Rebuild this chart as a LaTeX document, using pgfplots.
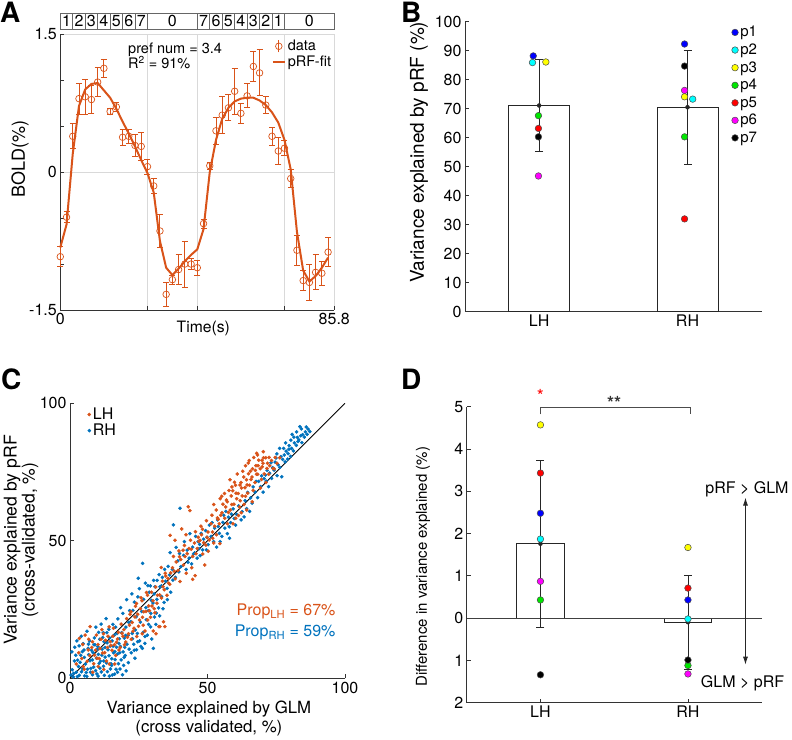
\documentclass[border=0pt]{standalone}
\usepackage{pgfplots}
\pgfplotsset{compat=1.18}
\usetikzlibrary{arrows.meta}
\usepackage{fontspec}
\setmainfont{TeX Gyre Heros}
\definecolor{mor}{RGB}{217,83,25}
\definecolor{mbl}{RGB}{0,114,189}
\definecolor{pa}{RGB}{0,0,255}
\definecolor{pb}{RGB}{0,255,255}
\definecolor{pc}{RGB}{255,255,0}
\definecolor{pd}{RGB}{0,230,0}
\definecolor{pe}{RGB}{255,0,0}
\definecolor{pf}{RGB}{255,0,255}
\definecolor{pg}{RGB}{0,0,0}
\newcommand{\fs}[1]{\fontsize{#1}{#1}\selectfont}
\pgfplotsset{
  base/.style={scale only axis, anchor=south west, axis lines=left,
    axis line style={-, black!80, line width=0.8pt},
    tick style={black!80, line width=0.8pt}, major tick length=4pt, minor tick length=4pt,
    tick align=inside,
    /pgf/number format/assume math mode=true, tick label style={font=\fs{16}},
    label style={font=\fs{16.5}}, clip=false},
  pt/.style={only marks, mark=*, mark size=3.3pt, mark options={fill=#1, draw=black!70, line width=0.5pt}},
}
\begin{document}
\begin{tikzpicture}[x=1pt,y=1pt]
\useasboundingbox (0,0) rectangle (792,739);
%================ A
\begin{axis}[base, at={(60.3pt,429pt)}, width=274pt, height=275.7pt,
  xmin=0, xmax=85.8, ymin=-1.5, ymax=1.5,
  xtick={0,27.3,42.9,70.2,85.8}, xticklabels={0,,,,85.8},
  ytick={-1.5,0,1.5}, yticklabels={-1.5,0,1.5}, minor ytick={-1,-0.5,0.5,1},
  grid=major, major grid style={black!15, line width=0.6pt},
  xlabel={Time(s)}, ylabel={BOLD(\%)},
  xlabel style={at={(axis description cs:0.522,-0.067)}, anchor=center, font=\fs{15.7}},
  ylabel style={at={(axis description cs:-0.147,0.548)}, anchor=center, font=\fs{18}},
  legend style={at={(axis description cs:1,0.99)}, anchor=north east, draw=none, fill=none,
    font=\fs{14.5}, row sep=0pt, inner sep=1pt}, legend cell align=left]
\addplot[mor, only marks, mark=o, mark size=3.3pt, mark options={line width=0.7pt},
  legend image code/.code={\draw[mor, line width=0.8pt] (4pt,-6pt) -- (4pt,6pt); \draw[mor, line width=0.7pt] (4pt,0pt) circle (3.3pt);},
  error bars/.cd, y dir=both, y explicit, error bar style={mor, line width=0.9pt},
  error mark options={rotate=90, mor, line width=0.9pt, mark size=3pt}]
  table[x=t, y=y, y error=e] {
t y e
0 -0.92 0.11
1.95 -0.49 0.06
3.9 0.39 0.135
5.85 0.80 0.17
7.8 0.82 0.19
9.75 0.79 0.15
11.7 0.98 0.16
13.65 1.13 0.10
15.6 0.66 0.035
17.55 0.71 0.05
19.5 0.38 0.09
21.45 0.39 0.08
23.4 0.29 0.12
25.35 0.28 0.15
27.3 0.06 0.08
29.25 -0.15 0.08
31.2 -0.64 0.18
33.15 -1.33 0.13
35.1 -1.17 0.05
37.05 -1.06 0.16
39.0 -1.00 0.25
40.95 -1.00 0.06
42.9 -1.04 0.08
44.85 -0.56 0.05
46.8 0.07 0.04
48.75 0.45 0.15
50.7 0.62 0.20
52.65 0.70 0.14
54.6 0.88 0.25
56.55 0.64 0.11
58.5 0.83 0.13
60.45 1.15 0.16
62.4 1.08 0.25
64.35 0.73 0.09
66.3 0.39 0.10
68.25 0.23 0.15
70.2 0.26 0.08
72.15 -0.07 0.10
74.1 -0.85 0.16
76.05 -1.18 0.11
78.0 -1.20 0.20
79.95 -1.09 0.19
81.9 -1.10 0.13
83.85 -0.87 0.16
};
\addlegendentry{data}
\addplot[mor, line width=2pt, mark=none,
  legend image code/.code={\draw[mor, line width=2pt] (-2pt,0pt) -- (10pt,0pt);}]
  coordinates {(0,-0.82) (1.95,-0.57) (3.9,0.2) (5.85,0.72) (7.8,0.9) (9.75,0.96) (11.7,0.97)
  (13.65,0.89) (15.6,0.81) (17.55,0.69) (19.5,0.55) (21.45,0.42) (23.4,0.28) (25.35,0.13) (27.3,-0.01)
  (29.25,-0.22) (31.2,-0.75) (33.15,-1.04) (35.1,-1.12) (37.05,-1.05) (39,-0.97) (40.95,-0.90)
  (42.9,-0.84) (44.85,-0.62) (46.8,0.0) (48.75,0.35) (50.7,0.58) (52.65,0.70) (54.6,0.77)
  (56.55,0.80) (58.5,0.81) (60.45,0.81) (62.4,0.78) (64.35,0.73) (66.3,0.65) (68.25,0.54)
  (70.2,0.35) (72.15,0.03) (74.1,-0.65) (76.05,-1.07) (78,-1.19) (79.95,-1.13) (81.9,-1.04) (83.85,-0.93)};
\addlegendentry{pRF-fit}
\node[anchor=base west, font=\fs{14.5}, inner sep=0pt] at (axis cs:21.2,1.293) {pref num = 3.4};
\node[anchor=base west, font=\fs{14.5}, inner sep=0pt] at (axis cs:21.2,1.123) {R\textsuperscript{2} = 91\%};
\end{axis}
% stimulus boxes
\foreach \n [count=\i from 0] in {1,2,3,4,5,6,7} {
  \draw[black!60, line width=0.6pt] ({60.3+\i*12.454},709.7) rectangle +(12.454,16);
  \node[font=\fs{16}, inner sep=0pt] at ({60.3+(\i+0.5)*12.454},717.7) {\n};
}
\draw[black!60, line width=0.6pt] (147.48,709.7) rectangle (197.3,725.7);
\node[font=\fs{16}] at (172.4,717.7) {0};
\foreach \n [count=\i from 0] in {7,6,5,4,3,2,1} {
  \draw[black!60, line width=0.6pt] ({197.3+\i*12.454},709.7) rectangle +(12.454,16);
  \node[font=\fs{16}, inner sep=0pt] at ({197.3+(\i+0.5)*12.454},717.7) {\n};
}
\draw[black!60, line width=0.6pt] (284.5,709.7) rectangle (334.3,725.7);
\node[font=\fs{16}] at (309.4,717.7) {0};
%================ B
\begin{axis}[base, at={(465pt,427.3pt)}, width=296.7pt, height=290pt,
  xmin=0.5, xmax=2.5, ymin=0, ymax=100, xtick={1,2}, xticklabels={LH,RH},
  ytick={0,10,...,100},
  ylabel={Variance explained by pRF (\%)},
  ylabel style={at={(axis description cs:-0.155,0.55)}, anchor=center, font=\fs{19}},
  legend style={at={(axis description cs:0.995,0.995)}, anchor=north east, draw=none, fill=none,
    font=\fs{15}, row sep=1.5pt, inner sep=1pt}, legend cell align=left]
\addplot[ybar, bar shift=0pt, bar width=0.41, fill=white, draw=black!85, line width=0.8pt, forget plot]
  coordinates {(1,71.0) (2,70.3)};
\addplot[black!85, only marks, mark=none, forget plot,
  error bars/.cd, y dir=both, y explicit, error bar style={line width=0.8pt},
  error mark options={rotate=90, line width=0.8pt, mark size=4pt}]
  coordinates {(1,71.1) +- (0,15.9) (2,70.5) +- (0,19.7)};
\addplot[pt=pa] coordinates {(0.96,88.2) (1.98,92.3)}; \addlegendentry{p1}
\addplot[pt=pb] coordinates {(0.955,85.9) (2.035,73.3)}; \addlegendentry{p2}
\addplot[pt=pc] coordinates {(1.045,86.1) (1.98,74.1)}; \addlegendentry{p3}
\addplot[pt=pd] coordinates {(0.995,67.6) (1.98,60.3)}; \addlegendentry{p4}
\addplot[pt=pe] coordinates {(0.995,63.2) (1.98,32.0)}; \addlegendentry{p5}
\addplot[pt=pf] coordinates {(0.995,46.8) (1.98,76.3)}; \addlegendentry{p6}
\addplot[pt=pg] coordinates {(0.995,60.3) (1.98,84.7)}; \addlegendentry{p7}
\end{axis}
%================ C
\begin{axis}[base, at={(70pt,60.7pt)}, width=275pt, height=275pt,
  xmin=0, xmax=100, ymin=0, ymax=100, xtick={0,50,100}, ytick={0,50,100},
  xlabel={Variance explained by GLM\\(cross validated, \%)},
  xlabel style={align=center, at={(axis description cs:0.505,-0.146)}, anchor=center, font=\fontsize{16.8}{18.5}\selectfont},
  ylabel={Variance explained by pRF\\(cross-validated, \%)},
  ylabel style={align=center, at={(axis description cs:-0.178,0.503)}, anchor=center, font=\fontsize{17.6}{18}\selectfont},
  legend style={at={(axis description cs:0.06,0.995)}, anchor=north west, draw=none, fill=none,
    font=\fs{16}, row sep=-1pt, inner sep=1pt}, legend cell align=left]
\addlegendimage{only marks, mark=*, mark size=1.6pt, color=mor}
\addlegendentry{LH}
\addlegendimage{only marks, mark=*, mark size=1.6pt, color=mbl}
\addlegendentry{RH}
\addplot[only marks, mark=*, mark size=1.6pt, color=mbl, forget plot] coordinates {
(0.4,1.2) (1.2,0.5) (0.8,3.1) (1.6,6.3) (2.3,2.2) (2.1,8.4) (2.5,13.6) (3.4,1.1) (3.1,4.3) (3.3,11.8) (4.2,2.4) (4.5,9.7) (4.1,15.3) (5.3,0.9) (5.6,5.2) (5.2,7.6)
(6.1,0.7) (6.4,3.3) (6.7,12.4) (6.2,17.1) (7.5,2.2) (7.3,6.4) (7.8,10.2) (8.2,1.3) (8.6,4.1) (8.4,9.3) (8.9,14.7) (9.3,2.8) (9.6,7.3) (9.1,12.2) (9.4,18.6) (10.2,0.8)
(10.6,5.4) (10.3,8.7) (10.8,14.2) (11.4,2.3) (11.1,6.2) (11.7,10.6) (11.3,19.7) (12.5,1.1) (12.2,4.4) (12.8,7.7) (12.4,13.3) (13.6,2.4) (13.2,5.6) (13.8,10.4)
(13.4,16.6) (13.1,21.7) (14.3,0.8) (14.7,3.4) (14.2,8.2) (14.6,11.7) (15.4,1.2) (15.1,4.7) (15.8,9.3) (15.3,13.6) (15.6,19.6) (16.2,1.5) (16.7,3.3) (16.4,6.8)
(16.9,11.3) (16.1,15.7) (17.3,2.2) (17.6,5.3) (17.2,8.8) (17.8,12.7) (17.4,21.6) (18.2,3.4) (18.6,6.7) (18.3,11.6) (18.8,16.6) (18.4,25.7) (19.1,1.3) (19.5,4.7)
(19.3,9.6) (19.8,14.6) (19.2,23.6) (20.4,2.7) (20.1,8.3) (20.7,12.4) (20.3,18.6) (20.6,28.6) (21.2,5.7) (21.5,10.6) (21.1,15.6) (21.7,24.6) (0.7,9.6) (2.8,6.6)
(4.8,12.6) (7.1,13.6) (9.8,1.6) (10.9,3.7) (12.1,16.6) (14.4,14.7) (16.6,18.6) (20.2,15.6) (3.7,5.8) (1.7,11.3) (7.6,3.6) (10.4,16.7) (12.7,11.2) (14.9,5.3)
(17.1,16.3) (19.7,7.6) (21.4,20.3)
(1.3,1.8) (2.7,0.6) (4.6,3.4) (5.9,2.1) (6.8,8.6) (8.1,6.7) (9.9,10.6) (11.6,8.4) (13.5,12.9) (15.2,7.1) (16.3,9.7) (18.1,9.3) (19.9,11.3) (17.9,14.4)
(15.7,11.7) (14.1,17.8) (12.3,6.3) (11.9,14.8) (10.1,11.6) (8.7,12.2) (6.6,10.9) (5.1,10.3) (3.9,8.4) (22.6,16.3) (23.4,10.2) (24.6,13.3) (25.8,11.6)
(27.3,15.2) (28.6,19.6) (29.7,14.3) (31.2,19.6) (32.6,22.7) (33.8,25.3) (35.4,28.6) (36.6,31.3) (30.9,33.3)
(22.3,9.3) (22.7,14.4) (22.1,20.6) (22.5,30.7) (23.6,7.3) (23.2,12.4) (23.8,17.6) (23.4,27.7) (24.2,10.4) (24.5,16.3) (24.1,22.4) (24.8,36.4) (25.3,13.6)
(25.6,20.4) (25.2,32.6) (26.3,10.9) (26.6,16.7) (26.1,24.3) (26.4,41.8) (27.2,12.7) (27.7,21.3) (27.4,34.6) (28.1,15.7) (28.5,24.6) (28.8,31.3) (29.3,18.7)
(29.6,28.3) (29.2,33.6) (30.3,10.9) (30.7,22.3) (30.2,27.4) (30.6,30.7) (31.4,23.7) (31.7,35.6) (32.2,25.6) (32.7,33.3) (33.3,29.7) (33.6,36.7) (34.2,27.6)
(34.7,35.3) (35.3,32.7) (36.2,37.6) (36.4,45.7) (37.2,39.6) (37.6,55.8) (38.3,36.7) (38.6,47.6) (39.2,42.7) (40.3,40.6) (40,61.8) (24.7,29.6) (26.8,28.7)
(28.3,33.7) (30.4,35.6) (32.4,37.7) (34.4,39.6) (35.7,40.7) (37.4,35.7) (39.6,38.7) (27.6,25.7) (29.4,23.6) (31.6,28.7) (33.2,33.6) (22.9,24.7)
(41.3,44.7) (42.2,39.6) (42.6,46.6) (43.3,43.7) (44.2,41.6) (44.6,47.7) (45.3,45.6) (45.7,51.6) (46.2,43.7) (46.6,49.7) (47.3,44.6) (47.7,52.7) (48.2,46.7)
(48.6,50.6) (49.3,53.7) (50.2,48.6) (50.7,55.7) (51.3,51.6) (52.2,49.7) (52.6,54.6) (53.3,47.7) (53.7,57.6) (54.3,52.7) (55.2,51.6) (55.6,56.7) (56.3,54.6)
(56.7,60.7) (57.2,52.6) (57.6,58.6) (58,50.9) (58.4,56.6) (59.3,61.6) (60.2,55.7) (60.6,59.6) (41.6,49.7) (43.6,52.6) (47.1,48.7) (49.6,46.7) (51.7,56.6)
(54.6,49.7) (58.7,59.7) (44.9,45.2) (49.8,51.3) (53.9,55.2) (57.9,55.1) (46.9,47.1) (42.9,42.2) (39.8,45.4) (55.9,59.3) (59.7,58.1)
(61.3,62.7) (62.2,57.6) (62.6,60.6) (63.3,58.7) (63.7,64.6) (64.2,61.7) (64.6,67.6) (65.3,60.7) (65.7,65.6) (66.2,63.7) (66.6,69.6) (67.3,67.7) (67.7,71.6)
(68.2,65.7) (68.6,71.6) (69.3,69.7) (69.7,73.6) (70.2,67.7) (70.6,72.6) (71.3,71.7) (71.7,75.6) (72.2,69.7) (72.6,74.6) (73.3,72.7) (73.7,76.6) (74.2,75.7)
(74.6,78.6) (75.3,73.7) (75.7,77.6) (75.2,81.6) (76.3,76.7) (76.7,80.6) (77,73.3) (77.3,79.6) (77.7,83.6) (78.2,78.7) (78.6,82.6) (79.3,81.7) (79.7,84.6)
(80.2,80.7) (80.6,83.6) (80.3,86.6) (81.2,82.7) (81.6,85.6) (82.3,84.7) (82.7,87.6) (83.2,86.7) (83.6,91.5) (84.3,85.7) (84.6,88.6) (85.2,87.7) (85.6,89.6)
(86.2,88.7) (86.6,90.6) (87.2,89.7) (78.4,85.6) (80.8,88.7) (82.4,89.6) (84.1,90.7) (79.1,79.7) (76.2,83.6) (81.4,87.7) (83.9,88.2) (85.9,91.4) (82.9,86.1)
(77.9,81.2) (74.9,80.1) (73.1,78.4) (71.1,73.9) (79.6,83.3)
};
\addplot[only marks, mark=*, mark size=1.6pt, color=mor, forget plot] coordinates {
(2.3,5.2) (3.2,9.3) (3.4,14.5) (4.3,7.2) (4.6,12.3) (5.2,3.3) (5.5,15.7) (6.3,6.2) (6.6,10.3) (7.2,8.3) (7.3,18.8) (8.3,2.2) (8.6,5.3) (8.2,13.3) (9.3,10.2) (9.6,15.7)
(10.3,4.3) (10.6,7.2) (10.2,12.3) (11.3,14.2) (11.6,17.7) (12.3,3.2) (12.6,9.3) (12.2,16.2) (13.3,6.3) (13.6,11.2) (14.3,5.2) (14.6,13.3) (14.2,18.7) (15.3,10.2)
(15.6,15.3) (16.3,5.2) (16.6,8.3) (16.2,12.2) (17.3,14.3) (17.6,16.7) (18.3,11.2) (18.6,19.7) (19.3,15.3) (19.6,17.7) (20.3,13.2) (20.6,21.7) (6.8,14.2) (9.8,7.3)
(11.8,9.2) (13.8,15.3) (15.8,18.2) (17.8,10.3) (19.8,12.2) (4.8,4.3)
(21.3,16.2) (21.6,19.3) (22.3,14.2) (22.6,20.3) (22.2,24.2) (23.3,18.2) (23.6,22.3) (24.3,15.2) (24.6,23.3) (24.2,27.2) (25.3,21.2) (25.6,25.3) (26.3,16.2)
(26.6,19.3) (26.2,28.2) (27.3,17.2) (27.6,24.3) (28.3,21.2) (28.6,26.3) (28.2,30.2) (29.3,22.2) (29.6,31.3) (30.3,17.2) (30.6,25.3) (30.2,28.2) (31.3,16.2)
(31.6,27.3) (31.2,33.2) (32.3,18.8) (32.6,30.3) (33.3,29.2) (33.6,35.3) (34,20.6) (34.3,32.2) (34.5,18.8) (35.3,30.2) (35.6,36.3) (32.7,18.8)
(23.8,26.2) (25.8,29.3) (27.8,31.2) (29.8,26.3) (31.8,30.2) (33.8,33.3) (34.8,37.2) (21.8,23.3) (26.8,24.2)
(33.2,40.3) (34.6,38.2) (36.3,34.2) (36.6,38.3) (36.4,52) (37.3,40.2) (37.6,44.3) (38.3,36.2) (38.6,42.3) (38.2,50.2) (39.3,39.2) (39.6,46.3) (40,35.2)
(40.3,43.2) (40.6,54.3) (41.3,41.2) (41.6,48.3) (42.3,38.2) (42.6,45.3) (42.2,52.2) (43.3,47.2) (43,62.4) (43.6,61) (44.3,40.2) (44.6,44.3)
(44.6,36) (45.3,49.2) (45.6,53.3) (45.5,37.3) (46.3,47.2) (46.6,51.3) (47.3,50.2) (47.6,55.3) (48.3,45.2) (48.6,49.3) (48.2,54.2) (49,41.2)
(49.6,57.3) (50.3,46.2) (50.6,50.3) (50.2,53.2) (51.3,56.2) (51.6,59.3) (52.3,49.2) (52.6,55.3) (53.3,52.2) (53.6,58.3) (53.2,61.2) (54.3,56.2) (54.5,49)
(55.3,60.2) (55.6,63.3) (39.8,44.2) (41.8,44.3) (43.8,50.2) (45.8,45.3) (47.8,52.2) (49.8,51.3) (51.8,53.2) (54.8,59.3)
(52.3,63.2) (54.6,65.3) (55.2,66.2) (56.3,58.2) (56.6,62.3) (56.2,67.2) (57.3,56.2) (57.6,60.3) (57.2,64.2) (57.8,68.3) (58.3,61.2) (58.6,66.3) (58.2,72.2)
(59.3,56.2) (59.6,63.3) (59.2,68.2) (59.8,71.3) (60.3,58.2) (60.6,65.3) (60.2,70.2) (60.8,74.3) (61.3,59.2) (61.6,62.3) (61.2,67.2) (62.3,60.2) (62.6,66.3)
(62.2,71.2) (62.8,75.3) (63.3,63.2) (63.6,69.3) (63.2,73.2) (63.8,77.3) (64.3,61.2) (64.6,67.3) (64.2,72.2) (64.8,78.3) (65.3,70.2) (65.6,75.3) (65.2,79.2)
(66.3,64.2) (66.6,68.3) (66.2,73.2) (66.8,80.3) (67.3,71.2) (67.6,77.3) (67.9,81.8) (68.3,74.2) (68.6,79.3) (68.2,81.2) (69.3,69.2) (69.6,72.3) (69.2,76.2)
(70.6,74.3) (70.2,78.2) (70.3,82.4) (71.3,71.2) (71.6,76.3) (71.2,80.2) (72.3,74.2) (72.6,77.3) (73.3,79.2) (74.3,76.2) (74.6,80.3) (75.3,78.2) (76.3,80.2)
(61.8,70.3) (63.8,66.2) (65.8,72.3) (67.8,74.2) (69.8,79.3) (71.8,78.2) (73.8,76.3) (58.8,63.2) (60.4,67.3) (62.4,69.2) (64.4,70.3) (66.4,76.2) (68.4,77.3)
(70.4,80.2) (72.4,80.3)
(56.9,64.8) (58.9,69.6) (61.9,64.6) (64.9,74.4) (67.4,75.6) (69.9,76.9) (53.9,57.8) (51.9,50.9) (49.4,48.4) (46.9,49.8) (44.1,46.9) (41.1,46.6) (37.9,38.9)
(35.9,34.6) (30.9,23.8) (28.9,24.6) (26.4,22.2) (24.9,18.9) (22.9,17.1) (20.9,14.9) (18.9,16.4) (16.9,13.1) (14.9,11.9) (12.9,13.8) (10.9,10.8) (8.9,8.4) (7.9,11.2)
};
\addplot[black, line width=0.8pt, mark=none, forget plot] coordinates {(0,0) (100,100)};
\node[anchor=base east, font=\fs{16}, text=mor, inner sep=0pt] at (axis cs:96.6,22.8) {Prop\textsubscript{LH} = 67\%};
\node[anchor=base east, font=\fs{16}, text=mbl, inner sep=0pt] at (axis cs:96.6,15.2) {Prop\textsubscript{RH} = 59\%};
\end{axis}
%================ D
\begin{axis}[base, at={(466.7pt,36.3pt)}, width=295pt, height=296pt,
  xmin=0.5, xmax=2.5, ymin=-2, ymax=5, xtick={1,2}, xticklabels={LH,RH},
  ytick={-2,-1,0,1,2,3,4,5}, yticklabels={2,1,0,1,2,3,4,5},
  ylabel={Difference in variance explained (\%)},
  ylabel style={at={(axis description cs:-0.148,0.459)}, anchor=center, font=\fs{15}}]
\addplot[ybar, bar shift=0pt, bar width=0.32, fill=white, draw=black!85, line width=0.8pt, forget plot]
  coordinates {(1,1.76) (2,-0.095)};
\addplot[black!75, line width=0.8pt, mark=none, forget plot] coordinates {(0.5,0) (2.5,0)};
\addplot[black!85, only marks, mark=none, forget plot,
  error bars/.cd, y dir=both, y explicit, error bar style={line width=0.8pt},
  error mark options={rotate=90, line width=0.8pt, mark size=4pt}]
  coordinates {(1,1.76) +- (0,1.97) (2,-0.095) +- (0,1.115)};
\addplot[pt=pa] coordinates {(1,2.48) (2,0.43)};
\addplot[pt=pb] coordinates {(1,1.87) (2,-0.02)};
\addplot[pt=pc] coordinates {(1,4.57) (2,1.67)};
\addplot[pt=pd] coordinates {(1,0.43) (2,-1.12)};
\addplot[pt=pe] coordinates {(1,3.43) (2,0.71)};
\addplot[pt=pg] coordinates {(1,-1.34) (2,-0.99)};
\addplot[pt=pf] coordinates {(1,0.87) (2,-1.32)};
\node[text=red, font=\fs{18}] at (axis cs:1,5.25) {*};
\draw[black!70, line width=0.8pt] (axis cs:1,4.82) -- (axis cs:1,4.98) -- (axis cs:2.015,4.98) -- (axis cs:2.015,4.82);
\node[font=\bfseries\fs{18}, text=black!80] at (axis cs:1.5,5.1) {**};
\draw[{Latex[length=8pt,width=5pt]}-{Latex[length=8pt,width=5pt]}, black!85, line width=0.8pt]
  (axis cs:2.39,2.85) -- (axis cs:2.39,-1.1);
\node[anchor=base, font=\fs{16}, inner sep=0pt] at (axis cs:2.40,2.95) {pRF > GLM};
\node[anchor=base, font=\fs{16}, inner sep=0pt] at (axis cs:2.37,-1.63) {GLM > pRF};
\end{axis}
% panel letters
\node[anchor=base west, font=\bfseries\fs{28}, inner sep=0pt] at (0,716) {A};
\node[anchor=base west, font=\bfseries\fs{28}, inner sep=0pt] at (401,716) {B};
\node[anchor=base west, font=\bfseries\fs{28}, inner sep=0pt] at (1,349) {C};
\node[anchor=base west, font=\bfseries\fs{28}, inner sep=0pt] at (401,349) {D};
\end{tikzpicture}
\end{document}
